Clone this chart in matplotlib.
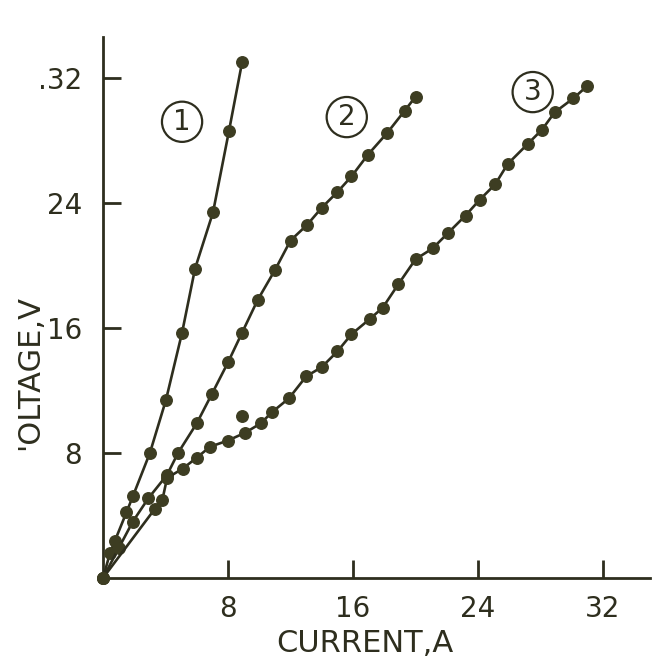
import matplotlib
matplotlib.use("Agg")
import matplotlib.pyplot as plt

# Curve 1
x1 = [0, 0.45, 0.77, 1.5, 1.92, 3.0, 4.03, 5.06, 5.89, 7.04, 8.06, 8.9]
y1 = [0, 1.6, 2.4, 4.2, 5.25, 8.0, 11.4, 15.7, 19.8, 23.4, 28.6, 33.0]

# Curve 2
x2 = [0, 1.0, 1.9, 2.9, 4.1, 4.8, 6.0, 6.98, 8.0, 8.9, 9.9, 11.0, 12.0, 13.06,
      14.0, 15.0, 15.9, 16.96, 18.2, 19.3, 20.0]
y2 = [0, 1.9, 3.6, 5.1, 6.6, 8.0, 9.9, 11.8, 13.8, 15.7, 17.8, 19.7, 21.6, 22.6,
      23.7, 24.7, 25.7, 27.1, 28.5, 29.9, 30.8]

# Curve 3
x3 = [0, 3.3, 3.8, 4.1, 5.1, 6.0, 6.85, 8.0, 9.1, 10.1, 10.8, 11.9, 13.0, 14.0,
      15.0, 15.9, 17.1, 17.9, 18.9, 20.0, 21.1, 22.1, 23.2, 24.1, 25.1, 25.9,
      27.2, 28.1, 28.9, 30.1, 31.0]
y3 = [0, 4.4, 5.0, 6.4, 7.0, 7.7, 8.4, 8.8, 9.3, 9.9, 10.6, 11.5, 12.9, 13.5,
      14.5, 15.6, 16.6, 17.3, 18.8, 20.4, 21.1, 22.1, 23.2, 24.2, 25.2, 26.5,
      27.8, 28.7, 29.8, 30.7, 31.5]

# Stray point
xs = [8.9]
ys = [10.4]

curve_labels = ["1", "2", "3"]
label_pos_x = [5.06, 15.6, 27.5]
label_pos_y = [29.2, 29.5, 31.1]

xticks = [8, 16, 24, 32]
xtick_labels = ["8", "16", "24", "32"]
yticks = [8, 16, 24, 32]
ytick_labels = ["8", "16", "24", ".32"]

ink = "#2e2e1e"
dot = "#3d3d22"

fig = plt.figure(figsize=(6.52, 6.71), dpi=100)
ax = fig.add_axes([103/652, 1 - 578/671, 546.9/652, 540.6/671])

for xs_, ys_ in [(x1, y1), (x2, y2), (x3, y3)]:
    ax.plot(xs_, ys_, color=ink, lw=1.9, marker="o", ms=8.3,
            mfc=dot, mec=dot, zorder=3, clip_on=False)
ax.plot(xs, ys, ls="none", marker="o", ms=8.3, mfc=dot, mec=dot, zorder=3)

for t, px, py in zip(curve_labels, label_pos_x, label_pos_y):
    ax.text(px, py, t, fontsize=20, ha="center", va="center", color=ink,
            bbox=dict(boxstyle="circle,pad=0.22", fc="none", ec=ink, lw=1.6))

ax.set_xlim(0, 35)
ax.set_ylim(0, 34.6)
ax.set_xticks(xticks)
ax.set_xticklabels(xtick_labels)
ax.set_yticks(yticks)
ax.set_yticklabels(ytick_labels)
ax.tick_params(direction="in", length=13, width=2.0, color=ink,
               labelsize=20, labelcolor=ink)
ax.tick_params(axis="x", pad=12)
ax.tick_params(axis="y", pad=15)
for s in ["top", "right"]:
    ax.spines[s].set_visible(False)
for s in ["left", "bottom"]:
    ax.spines[s].set_linewidth(2.0)
    ax.spines[s].set_color(ink)

fig.text(365/652, 1 - 643/671, "CURRENT,A", ha="center", va="center",
         fontsize=22, color=ink)
fig.text(30/652, 1 - 372/671, "'OLTAGE,V", ha="center", va="center",
         fontsize=22, color=ink, rotation=90)

fig.savefig("out.png", dpi=100, facecolor="white")
